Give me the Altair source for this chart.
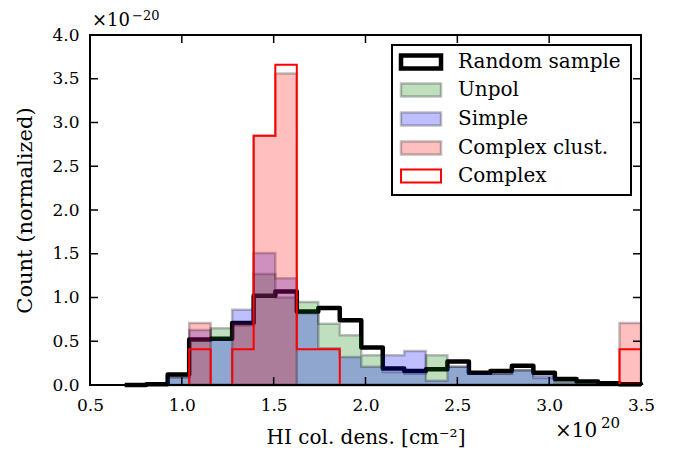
import altair as alt
import pandas as pd

# ---------------- data (x in units of 1e20 cm^-2, y in units of 1e-20) ----------------
edges = [0.689, 0.806, 0.923, 1.040, 1.157, 1.274, 1.391, 1.509, 1.626, 1.743,
         1.860, 1.977, 2.094, 2.211, 2.329, 2.446, 2.563, 2.680, 2.797, 2.914,
         3.031, 3.149, 3.266, 3.383, 3.500]

random_sample = [0.00, 0.01, 0.12, 0.52, 0.53, 0.71, 1.02, 1.07, 0.84, 0.88,
                 0.74, 0.43, 0.19, 0.16, 0.18, 0.27, 0.14, 0.16, 0.22, 0.14,
                 0.07, 0.04, 0.02, 0.01]
unpol = [0.00, 0.00, 0.09, 0.52, 0.65, 0.68, 1.27, 1.00, 0.95, 0.70,
         0.57, 0.34, 0.15, 0.13, 0.34, 0.21, 0.13, 0.13, 0.17, 0.08,
         0.05, 0.03, 0.00, 0.00]
simple = [0.00, 0.00, 0.09, 0.63, 0.52, 0.86, 1.51, 1.22, 0.82, 0.42,
          0.32, 0.21, 0.34, 0.39, 0.05, 0.21, 0.13, 0.13, 0.17, 0.11,
          0.03, 0.00, 0.00, 0.00]
complex_clust = [0.00, 0.00, 0.00, 0.71, 0.00, 0.71, 2.85, 3.56, 0.00, 0.00,
                 0.00, 0.00, 0.00, 0.00, 0.00, 0.00, 0.00, 0.00, 0.00, 0.00,
                 0.00, 0.00, 0.00, 0.71]
complex_ = [0.00, 0.00, 0.00, 0.41, 0.00, 0.41, 2.85, 3.66, 0.41, 0.41,
            0.00, 0.00, 0.00, 0.00, 0.00, 0.00, 0.00, 0.00, 0.00, 0.00,
            0.00, 0.00, 0.00, 0.41]

legend_labels = ["Random sample", "Unpol", "Simple", "Complex clust.", "Complex"]
x_ticks = [0.5, 1.0, 1.5, 2.0, 2.5, 3.0, 3.5]
y_ticks = [0.0, 0.5, 1.0, 1.5, 2.0, 2.5, 3.0, 3.5, 4.0]

# ---------------- layout / style ----------------
W, H = 551, 350
FONT = "DejaVu Serif"
xscale = alt.Scale(domain=[0.5, 3.5], nice=False, zero=False)
yscale = alt.Scale(domain=[0.0, 4.0], nice=False, zero=False)


def first_nonzero(vals):
    for i, v in enumerate(vals):
        if v > 0:
            return i
    return 0


def outline_rows(vals, start):
    rows = [{"x": edges[start], "y": 0.0, "o": 0}]
    k = 1
    for i in range(start, len(vals)):
        rows.append({"x": edges[i], "y": vals[i], "o": k}); k += 1
        rows.append({"x": edges[i + 1], "y": vals[i], "o": k}); k += 1
    rows.append({"x": edges[-1], "y": 0.0, "o": k})
    return pd.DataFrame(rows)


def fill_rows(vals, start):
    rows = [{"x": edges[i], "y": vals[i]} for i in range(start, len(vals))]
    rows.append({"x": edges[-1], "y": vals[-1]})
    return pd.DataFrame(rows)


x_axis = alt.Axis(values=x_ticks, format=".1f", ticks=False, domain=False, grid=False,
                  labelFlush=False, labelOverlap=False,
                  labelFont=FONT, labelFontSize=17, labelColor="black", labelPadding=12,
                  title="HI col. dens. [cm⁻²]", titleFont=FONT, titleFontSize=20,
                  titleFontWeight="normal", titleColor="black", titlePadding=14)
y_axis = alt.Axis(values=y_ticks, format=".1f", ticks=False, domain=False, grid=False,
                  labelFlush=False, labelOverlap=False,
                  labelFont=FONT, labelFontSize=17, labelColor="black", labelPadding=11,
                  title="Count (normalized)", titleFont=FONT, titleFontSize=21,
                  titleFontWeight="normal", titleColor="black", titlePadding=16)


def X(field):
    return alt.X(field, scale=xscale, axis=x_axis)


def Y(field):
    return alt.Y(field, scale=yscale, axis=y_axis)


# Random sample: thick black step line (drawn first, fills overlay it)
black = alt.Chart(outline_rows(random_sample, 0)).mark_line(
    color="black", strokeWidth=4.5, strokeJoin="round"
).encode(x=X("x:Q"), y=Y("y:Q"), order="o:Q")


def filled(vals, color):
    return alt.Chart(fill_rows(vals, first_nonzero(vals))).mark_area(
        interpolate="step-after", fill=color, fillOpacity=0.25,
        stroke="black", strokeOpacity=0.25, strokeWidth=2.5
    ).encode(x=X("x:Q"), y=Y("y:Q"), y2=alt.datum(0))


green = filled(unpol, "#008000")
blue = filled(simple, "#0000ff")
pink = filled(complex_clust, "#ff0000")

red = alt.Chart(outline_rows(complex_, first_nonzero(complex_))).mark_line(
    color="red", strokeWidth=2, strokeJoin="miter"
).encode(x=X("x:Q"), y=Y("y:Q"), order="o:Q")

# inward ticks on all four sides
xt = pd.DataFrame({"x": x_ticks})
yt = pd.DataFrame({"y": y_ticks})
TL = 8
tick_bottom = alt.Chart(xt).mark_rule(color="black", strokeWidth=1.5).encode(
    x=X("x:Q"), y=alt.value(H), y2=alt.value(H - TL))
tick_top = alt.Chart(xt).mark_rule(color="black", strokeWidth=1.5).encode(
    x=X("x:Q"), y=alt.value(0), y2=alt.value(TL))
tick_left = alt.Chart(yt).mark_rule(color="black", strokeWidth=1.5).encode(
    y=Y("y:Q"), x=alt.value(0), x2=alt.value(TL))
tick_right = alt.Chart(yt).mark_rule(color="black", strokeWidth=1.5).encode(
    y=Y("y:Q"), x=alt.value(W), x2=alt.value(W - TL))

one = pd.DataFrame({"a": [0]})
frame = alt.Chart(one).mark_rect(filled=False, stroke="black", strokeWidth=2).encode(
    x=alt.value(0), x2=alt.value(W), y=alt.value(0), y2=alt.value(H))

# ---------------- legend ----------------
LX0, LX1, LY0, LY1 = 302, 541, 10, 160
row_y = [27, 55, 84, 113, 141]
legend_layers = [
    alt.Chart(one).mark_rect(fill="white", stroke="black", strokeWidth=2).encode(
        x=alt.value(LX0), x2=alt.value(LX1), y=alt.value(LY0), y2=alt.value(LY1))
]
swatch_styles = [
    dict(fill="white", stroke="black", strokeWidth=4.5),
    dict(fill="#008000", fillOpacity=0.25, stroke="black", strokeOpacity=0.25, strokeWidth=2.5),
    dict(fill="#0000ff", fillOpacity=0.25, stroke="black", strokeOpacity=0.25, strokeWidth=2.5),
    dict(fill="#ff0000", fillOpacity=0.25, stroke="black", strokeOpacity=0.25, strokeWidth=2.5),
    dict(fill="white", stroke="red", strokeWidth=2),
]
for lab, yy, sty in zip(legend_labels, row_y, swatch_styles):
    legend_layers.append(
        alt.Chart(one).mark_rect(**sty).encode(
            x=alt.value(311), x2=alt.value(351), y=alt.value(yy - 6.5), y2=alt.value(yy + 6.5))
    )
    legend_layers.append(
        alt.Chart(one).mark_text(text=lab, font=FONT, fontSize=20, align="left",
                                 baseline="middle", color="black").encode(
            x=alt.value(368), y=alt.value(yy))
    )


# ---------------- offset (exponent) labels ----------------
def txt(s, x, y, size, align="left"):
    return alt.Chart(one).mark_text(text=s, font=FONT, fontSize=size, align=align,
                                    baseline="alphabetic", color="black").encode(
        x=alt.value(x), y=alt.value(y))


offsets = [
    txt("×10", 2, -9, 18),
    txt("−20", 42, -15, 13),
    txt("×10", 465, 402, 20),
    txt("20", 511, 393, 15),
]

chart = alt.layer(
    black, green, blue, pink, red,
    tick_bottom, tick_top, tick_left, tick_right, frame,
    *legend_layers, *offsets
).properties(
    width=W, height=H,
    autosize=alt.AutoSizeParams(type="none"),
    padding={"left": 82, "top": 27, "right": 35, "bottom": 69},
).configure_view(stroke=None)

chart.save("out.html", embed_options={"renderer": "svg", "actions": False})
